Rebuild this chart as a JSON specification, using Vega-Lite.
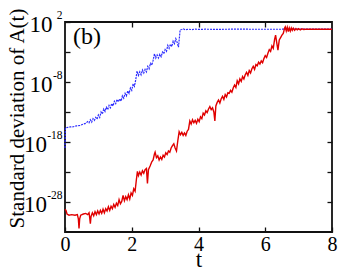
{
"$schema": "https://vega.github.io/schema/vega-lite/v6.json",
"width": 267, "height": 210,
"autosize": {"type": "none"},
"padding": {"left": 65, "top": 22, "right": 29, "bottom": 39},
"background": "white",
"config": {
  "view": {"stroke": "#111", "strokeWidth": 1.8},
  "font": "Liberation Serif",
  "text": {"font": "Liberation Serif"},
  "axis": {"domain": false, "grid": false, "tickColor": "#111", "tickWidth": 1.3, "labelColor": "black", "titleColor": "black", "labelFont": "Liberation Serif", "titleFont": "Liberation Serif", "titleFontWeight": "normal", "labelFlush": false, "labelOverlap": false, "labelBound": false}
},
"data": {"values": [
{"t":0,"sd":1e-19,"s":"b"},{"t":0.01,"sd":2e-16,"s":"b"},{"t":0.05,"sd":2.5e-16,"s":"b"},{"t":0.15,"sd":3.2e-16,"s":"b"},{"t":0.25,"sd":3.5e-16,"s":"b"},{"t":0.35,"sd":5e-16,"s":"b"},{"t":0.45,"sd":5.6e-16,"s":"b"},{"t":0.55,"sd":1e-15,"s":"b"},{"t":0.62,"sd":1.26e-15,"s":"b"},{"t":0.68,"sd":2.5e-15,"s":"b"},{"t":0.72,"sd":1.6e-15,"s":"b"},{"t":0.76,"sd":5e-15,"s":"b"},{"t":0.8,"sd":2e-15,"s":"b"},{"t":0.84,"sd":7.9e-15,"s":"b"},{"t":0.88,"sd":4e-15,"s":"b"},{"t":0.92,"sd":1.26e-14,"s":"b"},{"t":0.96,"sd":6.3e-15,"s":"b"},{"t":1.0,"sd":3.2e-14,"s":"b"},{"t":1.04,"sd":1.26e-14,"s":"b"},{"t":1.08,"sd":1e-13,"s":"b"},{"t":1.12,"sd":5e-14,"s":"b"},{"t":1.16,"sd":3.2e-13,"s":"b"},{"t":1.2,"sd":1.26e-13,"s":"b"},{"t":1.24,"sd":6.3e-13,"s":"b"},{"t":1.28,"sd":2.5e-13,"s":"b"},{"t":1.32,"sd":1.26e-12,"s":"b"},{"t":1.36,"sd":5e-13,"s":"b"},{"t":1.4,"sd":2.5e-12,"s":"b"},{"t":1.44,"sd":1e-12,"s":"b"},{"t":1.48,"sd":6.3e-12,"s":"b"},{"t":1.52,"sd":2.5e-12,"s":"b"},{"t":1.56,"sd":1.26e-11,"s":"b"},{"t":1.6,"sd":5e-12,"s":"b"},{"t":1.64,"sd":1.6e-11,"s":"b"},{"t":1.68,"sd":6.3e-12,"s":"b"},{"t":1.72,"sd":5e-11,"s":"b"},{"t":1.76,"sd":2e-11,"s":"b"},{"t":1.8,"sd":1.26e-10,"s":"b"},{"t":1.84,"sd":5e-11,"s":"b"},{"t":1.88,"sd":3.2e-10,"s":"b"},{"t":1.92,"sd":1.26e-10,"s":"b"},{"t":1.96,"sd":1e-9,"s":"b"},{"t":2.0,"sd":4e-10,"s":"b"},{"t":2.04,"sd":5e-9,"s":"b"},{"t":2.08,"sd":2e-9,"s":"b"},{"t":2.12,"sd":2.5e-8,"s":"b"},{"t":2.16,"sd":6.3e-7,"s":"b"},{"t":2.2,"sd":1.26e-7,"s":"b"},{"t":2.24,"sd":5e-7,"s":"b"},{"t":2.28,"sd":1.6e-7,"s":"b"},{"t":2.32,"sd":1e-6,"s":"b"},{"t":2.36,"sd":3.2e-7,"s":"b"},{"t":2.4,"sd":1.26e-6,"s":"b"},{"t":2.44,"sd":5e-7,"s":"b"},{"t":2.48,"sd":4e-6,"s":"b"},{"t":2.52,"sd":1.6e-6,"s":"b"},{"t":2.56,"sd":1.26e-5,"s":"b"},{"t":2.6,"sd":6.3e-6,"s":"b"},{"t":2.64,"sd":4e-5,"s":"b"},{"t":2.68,"sd":5e-4,"s":"b"},{"t":2.72,"sd":1e-4,"s":"b"},{"t":2.76,"sd":3.2e-4,"s":"b"},{"t":2.8,"sd":1e-4,"s":"b"},{"t":2.84,"sd":4e-4,"s":"b"},{"t":2.88,"sd":1.6e-4,"s":"b"},{"t":2.92,"sd":1e-3,"s":"b"},{"t":2.96,"sd":5e-4,"s":"b"},{"t":3.0,"sd":2.5e-3,"s":"b"},{"t":3.04,"sd":1.26e-3,"s":"b"},{"t":3.08,"sd":1.26e-2,"s":"b"},{"t":3.12,"sd":4e-3,"s":"b"},{"t":3.16,"sd":2e-2,"s":"b"},{"t":3.2,"sd":7.9e-3,"s":"b"},{"t":3.24,"sd":6.3e-2,"s":"b"},{"t":3.28,"sd":2.5e-2,"s":"b"},{"t":3.32,"sd":0.16,"s":"b"},{"t":3.36,"sd":0.04,"s":"b"},{"t":3.4,"sd":6.3e-3,"s":"b"},{"t":3.45,"sd":5,"s":"b"},{"t":3.5,"sd":5.6,"s":"b"},{"t":3.55,"sd":7.1,"s":"b"},{"t":3.6,"sd":5.2,"s":"b"},{"t":3.7,"sd":6.3,"s":"b"},{"t":3.8,"sd":5.5,"s":"b"},{"t":3.9,"sd":6.6,"s":"b"},{"t":4.0,"sd":5.8,"s":"b"},{"t":4.2,"sd":6.3,"s":"b"},{"t":4.5,"sd":6,"s":"b"},{"t":5.0,"sd":6.3,"s":"b"},{"t":6.0,"sd":6.2,"s":"b"},{"t":7.0,"sd":6.3,"s":"b"},{"t":8.0,"sd":6.3,"s":"b"},
{"t":0,"sd":6.3e-30,"s":"r"},{"t":0.03,"sd":4e-30,"s":"r"},{"t":0.06,"sd":1e-30,"s":"r"},{"t":0.12,"sd":6.3e-31,"s":"r"},{"t":0.2,"sd":7.9e-31,"s":"r"},{"t":0.3,"sd":6.3e-31,"s":"r"},{"t":0.37,"sd":7.9e-31,"s":"r"},{"t":0.4,"sd":1.6e-31,"s":"r"},{"t":0.42,"sd":4e-33,"s":"r"},{"t":0.44,"sd":1.6e-31,"s":"r"},{"t":0.47,"sd":6.3e-31,"s":"r"},{"t":0.55,"sd":1e-30,"s":"r"},{"t":0.62,"sd":1.26e-30,"s":"r"},{"t":0.68,"sd":7.9e-31,"s":"r"},{"t":0.72,"sd":1.6e-30,"s":"r"},{"t":0.74,"sd":2.5e-31,"s":"r"},{"t":0.76,"sd":2.5e-32,"s":"r"},{"t":0.78,"sd":4e-31,"s":"r"},{"t":0.82,"sd":1.6e-30,"s":"r"},{"t":0.86,"sd":5e-31,"s":"r"},{"t":0.9,"sd":2.5e-30,"s":"r"},{"t":0.94,"sd":7.9e-31,"s":"r"},{"t":0.98,"sd":3.2e-30,"s":"r"},{"t":1.02,"sd":1e-30,"s":"r"},{"t":1.06,"sd":4e-30,"s":"r"},{"t":1.1,"sd":1.26e-30,"s":"r"},{"t":1.14,"sd":6.3e-30,"s":"r"},{"t":1.18,"sd":1.6e-30,"s":"r"},{"t":1.22,"sd":7.9e-30,"s":"r"},{"t":1.26,"sd":3.2e-30,"s":"r"},{"t":1.3,"sd":1.6e-29,"s":"r"},{"t":1.34,"sd":4e-30,"s":"r"},{"t":1.38,"sd":2e-29,"s":"r"},{"t":1.42,"sd":7.9e-30,"s":"r"},{"t":1.46,"sd":4e-29,"s":"r"},{"t":1.5,"sd":1.26e-29,"s":"r"},{"t":1.54,"sd":6.3e-29,"s":"r"},{"t":1.58,"sd":2.5e-29,"s":"r"},{"t":1.62,"sd":2.5e-28,"s":"r"},{"t":1.66,"sd":5e-29,"s":"r"},{"t":1.7,"sd":1.26e-28,"s":"r"},{"t":1.74,"sd":1.26e-27,"s":"r"},{"t":1.78,"sd":1.6e-28,"s":"r"},{"t":1.82,"sd":7.9e-28,"s":"r"},{"t":1.86,"sd":2.5e-28,"s":"r"},{"t":1.9,"sd":1.6e-27,"s":"r"},{"t":1.94,"sd":3.2e-28,"s":"r"},{"t":1.98,"sd":3.2e-27,"s":"r"},{"t":2.02,"sd":1.26e-27,"s":"r"},{"t":2.06,"sd":1.6e-26,"s":"r"},{"t":2.1,"sd":6.3e-27,"s":"r"},{"t":2.14,"sd":6.3e-25,"s":"r"},{"t":2.17,"sd":1.26e-23,"s":"r"},{"t":2.2,"sd":2.5e-24,"s":"r"},{"t":2.24,"sd":1e-23,"s":"r"},{"t":2.28,"sd":3.2e-24,"s":"r"},{"t":2.32,"sd":1.6e-23,"s":"r"},{"t":2.36,"sd":6.3e-24,"s":"r"},{"t":2.4,"sd":2.5e-23,"s":"r"},{"t":2.44,"sd":4e-23,"s":"r"},{"t":2.47,"sd":1.26e-25,"s":"r"},{"t":2.5,"sd":2.5e-23,"s":"r"},{"t":2.55,"sd":1e-22,"s":"r"},{"t":2.6,"sd":5e-22,"s":"r"},{"t":2.64,"sd":1e-21,"s":"r"},{"t":2.68,"sd":1e-20,"s":"r"},{"t":2.7,"sd":2e-20,"s":"r"},{"t":2.74,"sd":2.5e-21,"s":"r"},{"t":2.78,"sd":5e-21,"s":"r"},{"t":2.82,"sd":1e-21,"s":"r"},{"t":2.86,"sd":3.2e-21,"s":"r"},{"t":2.9,"sd":1.26e-21,"s":"r"},{"t":2.94,"sd":6.3e-21,"s":"r"},{"t":2.98,"sd":3.2e-21,"s":"r"},{"t":3.02,"sd":1.6e-20,"s":"r"},{"t":3.06,"sd":7.9e-21,"s":"r"},{"t":3.1,"sd":3.2e-20,"s":"r"},{"t":3.14,"sd":2e-20,"s":"r"},{"t":3.18,"sd":1e-19,"s":"r"},{"t":3.22,"sd":2.5e-19,"s":"r"},{"t":3.26,"sd":5e-19,"s":"r"},{"t":3.3,"sd":1e-19,"s":"r"},{"t":3.34,"sd":3.2e-20,"s":"r"},{"t":3.38,"sd":1.6e-18,"s":"r"},{"t":3.42,"sd":5e-17,"s":"r"},{"t":3.46,"sd":1.6e-17,"s":"r"},{"t":3.5,"sd":4e-17,"s":"r"},{"t":3.54,"sd":1.26e-17,"s":"r"},{"t":3.58,"sd":3.2e-17,"s":"r"},{"t":3.62,"sd":1.26e-17,"s":"r"},{"t":3.66,"sd":6.3e-17,"s":"r"},{"t":3.7,"sd":1.26e-16,"s":"r"},{"t":3.74,"sd":3.2e-15,"s":"r"},{"t":3.78,"sd":1e-15,"s":"r"},{"t":3.82,"sd":5e-15,"s":"r"},{"t":3.86,"sd":1.6e-15,"s":"r"},{"t":3.9,"sd":4e-15,"s":"r"},{"t":3.94,"sd":1.26e-15,"s":"r"},{"t":3.98,"sd":6.3e-15,"s":"r"},{"t":4.02,"sd":2.5e-15,"s":"r"},{"t":4.06,"sd":1.6e-14,"s":"r"},{"t":4.1,"sd":7.9e-15,"s":"r"},{"t":4.14,"sd":6.3e-14,"s":"r"},{"t":4.18,"sd":3.2e-14,"s":"r"},{"t":4.22,"sd":1.6e-13,"s":"r"},{"t":4.26,"sd":7.9e-14,"s":"r"},{"t":4.3,"sd":3.2e-13,"s":"r"},{"t":4.34,"sd":7.9e-13,"s":"r"},{"t":4.38,"sd":2.5e-13,"s":"r"},{"t":4.42,"sd":5e-13,"s":"r"},{"t":4.46,"sd":1e-13,"s":"r"},{"t":4.49,"sd":3.2e-15,"s":"r"},{"t":4.52,"sd":1e-12,"s":"r"},{"t":4.56,"sd":4e-12,"s":"r"},{"t":4.6,"sd":1e-11,"s":"r"},{"t":4.64,"sd":3.2e-12,"s":"r"},{"t":4.68,"sd":1.6e-11,"s":"r"},{"t":4.72,"sd":4e-11,"s":"r"},{"t":4.76,"sd":1.26e-11,"s":"r"},{"t":4.8,"sd":7.9e-11,"s":"r"},{"t":4.84,"sd":3.2e-11,"s":"r"},{"t":4.88,"sd":1.6e-10,"s":"r"},{"t":4.92,"sd":1.26e-10,"s":"r"},{"t":4.96,"sd":4e-10,"s":"r"},{"t":5.0,"sd":2e-10,"s":"r"},{"t":5.04,"sd":1e-9,"s":"r"},{"t":5.08,"sd":3.2e-9,"s":"r"},{"t":5.12,"sd":1.26e-9,"s":"r"},{"t":5.16,"sd":1.6e-8,"s":"r"},{"t":5.2,"sd":5e-9,"s":"r"},{"t":5.24,"sd":3.2e-8,"s":"r"},{"t":5.28,"sd":1.26e-8,"s":"r"},{"t":5.32,"sd":7.9e-8,"s":"r"},{"t":5.36,"sd":3.2e-8,"s":"r"},{"t":5.4,"sd":1.6e-7,"s":"r"},{"t":5.44,"sd":4e-7,"s":"r"},{"t":5.48,"sd":1.26e-7,"s":"r"},{"t":5.52,"sd":7.9e-7,"s":"r"},{"t":5.56,"sd":3.2e-7,"s":"r"},{"t":5.6,"sd":1.6e-6,"s":"r"},{"t":5.64,"sd":4e-6,"s":"r"},{"t":5.68,"sd":1.26e-6,"s":"r"},{"t":5.72,"sd":7.9e-6,"s":"r"},{"t":5.76,"sd":5e-6,"s":"r"},{"t":5.8,"sd":2e-5,"s":"r"},{"t":5.84,"sd":1e-5,"s":"r"},{"t":5.88,"sd":3.2e-5,"s":"r"},{"t":5.92,"sd":1.6e-5,"s":"r"},{"t":5.96,"sd":7.9e-5,"s":"r"},{"t":6.0,"sd":2.5e-4,"s":"r"},{"t":6.04,"sd":1.26e-4,"s":"r"},{"t":6.08,"sd":6.3e-4,"s":"r"},{"t":6.12,"sd":2.5e-3,"s":"r"},{"t":6.16,"sd":1.26e-3,"s":"r"},{"t":6.2,"sd":1e-2,"s":"r"},{"t":6.24,"sd":4e-3,"s":"r"},{"t":6.28,"sd":0.126,"s":"r"},{"t":6.31,"sd":0.63,"s":"r"},{"t":6.34,"sd":0.05,"s":"r"},{"t":6.38,"sd":0.002,"s":"r"},{"t":6.42,"sd":0.1,"s":"r"},{"t":6.46,"sd":0.25,"s":"r"},{"t":6.5,"sd":0.63,"s":"r"},{"t":6.54,"sd":1.26,"s":"r"},{"t":6.58,"sd":10,"s":"r"},{"t":6.6,"sd":15.8,"s":"r"},{"t":6.63,"sd":3.2,"s":"r"},{"t":6.66,"sd":12.6,"s":"r"},{"t":6.69,"sd":2.5,"s":"r"},{"t":6.72,"sd":10,"s":"r"},{"t":6.75,"sd":3.2,"s":"r"},{"t":6.78,"sd":10,"s":"r"},{"t":6.81,"sd":4,"s":"r"},{"t":6.84,"sd":8.9,"s":"r"},{"t":6.88,"sd":4,"s":"r"},{"t":6.92,"sd":7.9,"s":"r"},{"t":6.96,"sd":5,"s":"r"},{"t":7.0,"sd":7.9,"s":"r"},{"t":7.05,"sd":5,"s":"r"},{"t":7.1,"sd":7.1,"s":"r"},{"t":7.15,"sd":5.6,"s":"r"},{"t":7.2,"sd":6.3,"s":"r"},{"t":8.0,"sd":6.3,"s":"r"}
]},
"layer": [
  {
    "transform": [{"filter": "datum.s == 'b'"}],
    "mark": {"type": "line", "color": "#2b2bff", "strokeWidth": 1.2, "strokeDash": [2, 1]},
    "encoding": {
      "x": {"field": "t", "type": "quantitative", "scale": {"domain": [0, 8], "nice": false},
        "axis": {"orient": "bottom", "values": [0, 2, 4, 6, 8], "tickSize": -5, "labelPadding": 7, "labelFont": "Liberation Serif", "labelFontSize": 20, "format": "d", "title": "t", "titleFont": "Liberation Serif", "titleFontSize": 23, "titleBaseline": "alphabetic", "titleY": 34.5}},
      "y": {"field": "sd", "type": "quantitative", "scale": {"type": "log", "domain": [1e-33, 100], "nice": false},
        "axis": {"orient": "left", "values": [100, 1e-3, 1e-8, 1e-13, 1e-18, 1e-23, 1e-28], "tickSize": -5,
          "labelPadding": {"condition": {"test": "abs(round(log(datum.value)/LN10)) >= 10", "value": 23.5}, "value": 18},
          "labelFont": "Liberation Serif", "labelFontSize": 23, "labelBaseline": "middle", "labelOffset": 2,
          "labelExpr": "(abs(round(log(datum.value)/LN10) + 8) % 10 == 0) ? '10' : ''",
          "title": "Standard deviation of A(t)", "titleFont": "Liberation Serif", "titleFontSize": 21, "titleAngle": -90, "titleX": -42, "titleY": 96, "titleBaseline": "alphabetic", "titleAlign": "center"}}
    }
  },
  {
    "transform": [{"filter": "datum.s == 'r'"}],
    "mark": {"type": "line", "color": "#e00000", "strokeWidth": 1.4},
    "encoding": {
      "x": {"field": "t", "type": "quantitative", "axis": {"orient": "top", "values": [2, 4, 6], "tickSize": -5, "labels": false, "title": null}},
      "y": {"field": "sd", "type": "quantitative", "axis": {"orient": "right", "values": [1e-3, 1e-8, 1e-13, 1e-18, 1e-23, 1e-28], "tickSize": -5, "labels": false, "title": null}}
    }
  },
  {
    "data": {"values": [{"label": "(b)"}]},
    "mark": {"type": "text", "font": "Liberation Serif", "fontSize": 24, "align": "center", "baseline": "middle", "color": "black"},
    "encoding": {
      "text": {"field": "label"},
      "x": {"datum": 0.66, "type": "quantitative", "axis": null},
      "y": {"datum": 0.316, "type": "quantitative",
        "axis": {"orient": "left", "values": [100, 1e-8, 1e-18, 1e-28], "ticks": false, "labelPadding": 3, "labelFont": "Liberation Serif", "labelFontSize": 11.5, "labelBaseline": "middle", "labelOffset": -7, "labelExpr": "'' + round(log(datum.value)/LN10)", "title": null}}
    }
  }
],
"resolve": {"axis": {"x": "independent", "y": "independent"}}
}
